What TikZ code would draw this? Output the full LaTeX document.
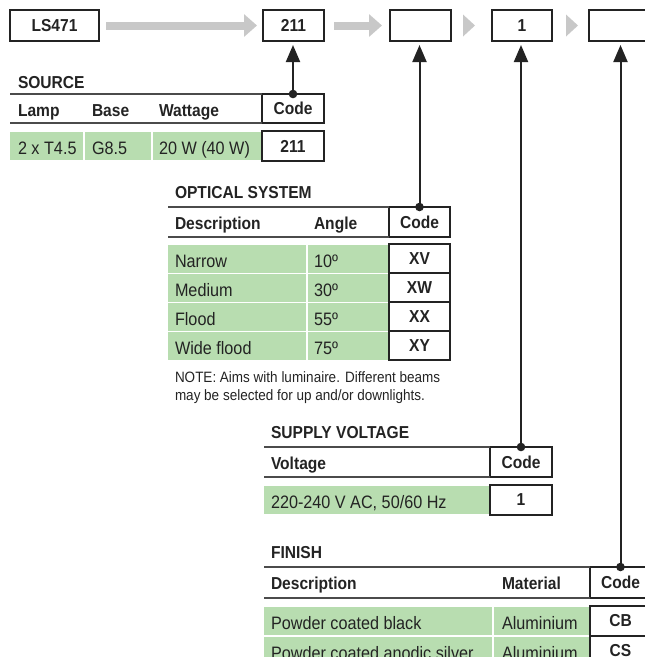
\documentclass[tikz,border=0pt]{standalone}
\usepackage{fontspec}
\setmainfont{Liberation Sans}[FakeStretch=0.9]
\usetikzlibrary{arrows.meta}
\definecolor{grn}{RGB}{184,221,176}
\definecolor{lgray}{RGB}{200,200,200}
\definecolor{dk}{RGB}{35,35,35}
\definecolor{ln}{RGB}{75,75,75}
\begin{document}
\begin{tikzpicture}[x=1pt,y=-1pt,
  every node/.style={inner sep=0pt,outer sep=0pt},
  txt/.style={anchor=base west,font=\fontsize{18}{20}\selectfont,text=dk},
  hdr/.style={anchor=base west,font=\fontsize{17.3}{20}\selectfont\bfseries,text=dk},
  note/.style={anchor=base west,font=\fontsize{15}{18}\selectfont,text=dk},
  cbox/.style={draw=dk,line width=1.2pt,anchor=north west,font=\fontsize{17.3}{20}\selectfont\bfseries,text=dk,minimum height=31pt},
  tline/.style={draw=ln,line width=1.5pt},
  grey/.style={draw=lgray,line width=8pt,-{Triangle[length=13pt,width=22pt]}},
  pick/.style={draw=dk,line width=2pt,-{Triangle[length=17pt,width=14pt]},shorten >=4pt},
  dotc/.style={fill=dk}
]
\clip (0,0) rectangle (645,657);
\useasboundingbox (0,0) rectangle (645,657);

% top row
\node[cbox,minimum width=89pt] (ls) at (10,10) {LS471};
\node[cbox,minimum width=61pt] (b1) at (263,10) {211};
\node[cbox,minimum width=61pt] (b2) at (390,10) {};
\node[cbox,minimum width=60pt] (b3) at (492,10) {1};
\node[cbox,minimum width=62pt] (b4) at (589,10) {};
\draw[grey,shorten <=7pt,shorten >=6pt] (ls.east) -- (b1.west);
\draw[grey,shorten <=10pt,shorten >=8pt] (b1.east) -- (b2.west);
\fill[lgray] ([xshift=12pt,yshift=11pt]b2.east) -- ([xshift=24pt]b2.east) -- ([xshift=12pt,yshift=-11pt]b2.east) -- cycle;
\fill[lgray] ([xshift=14pt,yshift=11pt]b3.east) -- ([xshift=26pt]b3.east) -- ([xshift=14pt,yshift=-11pt]b3.east) -- cycle;

% SOURCE
\node[hdr] (t1) at (18,88) {SOURCE};
\node[cbox,minimum width=62pt,minimum height=29pt] (h1) at (262,94) {Code};
\draw[tline] (10,94) -- (h1.north west);
\draw[tline] (10,123) -- (h1.south west);
\node[hdr] (s1) at (18,116) {Lamp};
\node[hdr] (s2) at (92,116) {Base};
\node[hdr] (s3) at (159,116) {Wattage};
\fill[grn] (10,132) rectangle (83,160);
\fill[grn] (85,132) rectangle (151,160);
\fill[grn] (153,132) rectangle (261,160);
\node[txt] (s4) at (18,154) {2 x T4.5};
\node[txt] (s5) at (92,154) {G8.5};
\node[txt] (s6) at (159,154) {20 W (40 W)};
\node[cbox,minimum width=62pt,minimum height=30pt] (c1) at (262,131) {211};

% OPTICAL SYSTEM
\node[hdr] (t2) at (175,198) {OPTICAL SYSTEM};
\node[cbox,minimum width=61pt,minimum height=30pt] (h2) at (389,207) {Code};
\draw[tline] (168,207) -- (h2.north west);
\draw[tline] (168,237) -- (h2.south west);
\node[hdr] (o1) at (175,229) {Description};
\node[hdr] (o2) at (314,229) {Angle};
\foreach \i/\d/\a/\c in {0/Narrow/10º/XV,1/Medium/30º/XW,2/Flood/55º/XX,3/Wide flood/75º/XY}{
  \fill[grn] (168,245+29*\i) rectangle (306,273+29*\i);
  \fill[grn] (308,245+29*\i) rectangle (389,273+29*\i);
  \node[txt] (od\i) at (175,267+29*\i) {\d};
  \node[txt] (oa\i) at (314,267+29*\i) {\a};
  \node[cbox,minimum width=61pt,minimum height=29pt] (oc\i) at (389,244+29*\i) {\c};
}
\node[note] (n1) at (175,382) {NOTE: Aims with luminaire. Different beams};
\node[note] (n2) at (175,400) {may be selected for up and/or downlights.};

% SUPPLY VOLTAGE
\node[hdr] (t3) at (271,438) {SUPPLY VOLTAGE};
\node[cbox,minimum width=62pt,minimum height=30pt] (h3) at (490,447) {Code};
\draw[tline] (264,447) -- (h3.north west);
\draw[tline] (264,477) -- (h3.south west);
\node[hdr] (v1) at (271,469) {Voltage};
\fill[grn] (264,486) rectangle (489,514);
\node[txt] (v2) at (271,508) {220-240 V AC, 50/60 Hz};
\node[cbox,minimum width=62pt,minimum height=30pt] (c3) at (490,485) {1};

% FINISH
\node[hdr] (t4) at (271,558) {FINISH};
\node[cbox,minimum width=61pt,minimum height=31pt] (h4) at (590,567) {Code};
\draw[tline] (264,567) -- (h4.north west);
\draw[tline] (264,598) -- (h4.south west);
\node[hdr] (f1) at (271,589) {Description};
\node[hdr] (f2) at (502,589) {Material};
\foreach \i/\d/\c in {0/Powder coated black/CB,1/Powder coated anodic silver/CS}{
  \fill[grn] (264,607+30*\i) rectangle (492,635+30*\i);
  \fill[grn] (494,607+30*\i) rectangle (589,635+30*\i);
  \node[txt] (fd\i) at (271,629+30*\i) {\d};
  \node[txt] (fm\i) at (502,629+30*\i) {Aluminium};
  \node[cbox,minimum width=61pt,minimum height=30pt] (fc\i) at (590,606+30*\i) {\c};
}

% pick arrows
\foreach \h/\b in {h1/b1,h2/b2,h3/b3,h4/b4}{
  \draw[pick] (\h.north) -- (\h.north |- \b.south);
  \fill[dotc] (\h.north) circle (4.3pt);
}
\end{tikzpicture}
\end{document}
